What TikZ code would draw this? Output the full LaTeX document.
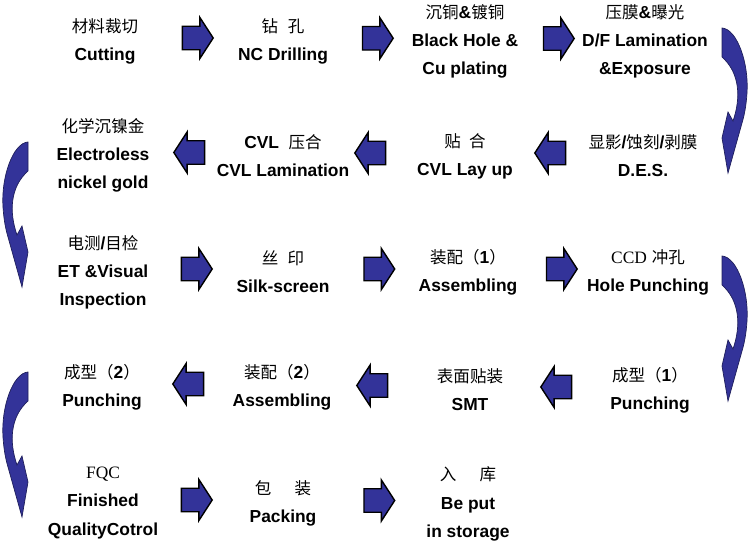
\documentclass[tikz,border=0pt]{standalone}
\usepackage{fontspec}
\setmainfont{Liberation Sans}
\newfontfamily\cjk{Noto Sans CJK SC}
\newfontfamily\ser{Liberation Serif}
\usetikzlibrary{shapes.arrows,calc}
\definecolor{arrowblue}{RGB}{51,51,153}
\newcommand{\zh}[1]{{\cjk\mdseries\fontsize{9.4pt}{16pt}\selectfont #1}}
\begin{document}
\begin{tikzpicture}[x=0.02cm,y=-0.02cm,
 stage/.style={align=center,inner sep=0pt,font=\fontsize{9.9pt}{16pt}\selectfont\bfseries},
 rarr/.style={single arrow,draw=black,line width=0.8pt,fill=arrowblue,inner xsep=0pt,inner ysep=6.3pt,minimum height=17.5pt,single arrow head extend=5pt,single arrow tip angle=114},
 larr/.style={rarr,shape border rotate=180},
 curvefill/.style={fill=arrowblue,draw=arrowblue!60!black,line width=0.4pt},
 curvearrow/.pic={\filldraw[curvefill] (0,0) .. controls (15,1) and (27,35) .. (25,65) .. controls (24,80) and (22,88) .. (20,95) -- (6,145) -- (0,110) -- (6,84) -- (11,93) .. controls (19,70) and (18,45) .. (0,29) -- cycle;}]
\useasboundingbox (0,0) rectangle (750,544);
 \node[stage] (cut) at (105,41) {\zh{材料裁切}\\Cutting};
 \node[stage] (drill) at (283,41) {\zh{钻\hspace{0.6em}孔}\\NC Drilling};
 \node[stage] (pth) at (465,41.5) {\zh{沉铜}\&\zh{镀铜}\\Black Hole \&\\Cu plating};
 \node[stage] (df) at (645,41.5) {\zh{压膜}\&\zh{曝光}\\D/F Lamination\\\&Exposure};
 \node[stage] (des) at (643,156) {\zh{显影}/\zh{蚀刻}/\zh{剥膜}\\D.E.S.};
 \node[stage] (layup) at (465,156) {\zh{贴\hspace{0.5em}合}\\CVL Lay up};
 \node[stage] (cvl) at (283,156) {CVL\ \ \zh{压合}\\CVL Lamination};
 \node[stage] (enig) at (103,155) {\zh{化学沉镍金}\\Electroless\\nickel gold};
 \node[stage] (et) at (103,272) {\zh{电测}/\zh{目检}\\ET \&Visual\\Inspection};
 \node[stage] (silk) at (283,272) {\zh{丝\hspace{0.55em}印}\\Silk-screen};
 \node[stage] (asm1) at (468,272) {\zh{装配（}1\zh{）}\\Assembling};
 \node[stage] (ccd) at (648,272) {{\ser\mdseries CCD} \zh{冲孔}\\Hole Punching};
 \node[stage] (pun1) at (650,390) {\zh{成型（}1\zh{）}\\Punching};
 \node[stage] (smt) at (470,390) {\zh{表面贴装}\\SMT};
 \node[stage] (asm2) at (282,387) {\zh{装配（}2\zh{）}\\Assembling};
 \node[stage] (pun2) at (102,387) {\zh{成型（}2\zh{）}\\Punching};
 \node[stage] (fqc) at (103,503) {{\ser\mdseries FQC}\\Finished\\QualityCotrol};
 \node[stage] (pack) at (283,503) {\zh{包\hspace{1.4em}装}\\Packing};
 \node[stage] (store) at (468,504) {\zh{入\hspace{1.4em}库}\\Be put\\in storage};
 \node[rarr] (a1) at ($(cut)!0.5!(drill)+(0,-3)$) {};
 \node[rarr] (a2) at ($(drill)!0.5!(pth)+(0,-3)$) {};
 \node[rarr] (a3) at ($(pth)!0.5!(df)+(0,-3)$) {};
 \node[larr] (a4) at ($(des)!0.5!(layup)+(0,-3)$) {};
 \node[larr] (a5) at ($(layup)!0.5!(cvl)+(0,-3)$) {};
 \node[larr] (a6) at ($(cvl)!0.5!(enig)+(0,-3)$) {};
 \node[rarr] (a7) at ($(et)!0.5!(silk)+(0,-3)$) {};
 \node[rarr] (a8) at ($(silk)!0.5!(asm1)+(0,-3)$) {};
 \node[rarr] (a9) at ($(asm1)!0.5!(ccd)+(0,-3)$) {};
 \node[larr] (a10) at ($(pun1)!0.5!(smt)+(0,-3)$) {};
 \node[larr] (a11) at ($(smt)!0.5!(asm2)+(0,-3)$) {};
 \node[larr] (a12) at ($(asm2)!0.5!(pun2)+(0,-3)$) {};
 \node[rarr] (a13) at ($(fqc)!0.5!(pack)+(0,-3)$) {};
 \node[rarr] (a14) at ($(pack)!0.5!(store)+(0,-3)$) {};
 \pic at (722,28) {curvearrow};
 \pic[xscale=-1] at (28,142) {curvearrow};
 \pic at (722,256) {curvearrow};
 \pic[xscale=-1] at (28,372) {curvearrow};
\end{tikzpicture}
\end{document}
